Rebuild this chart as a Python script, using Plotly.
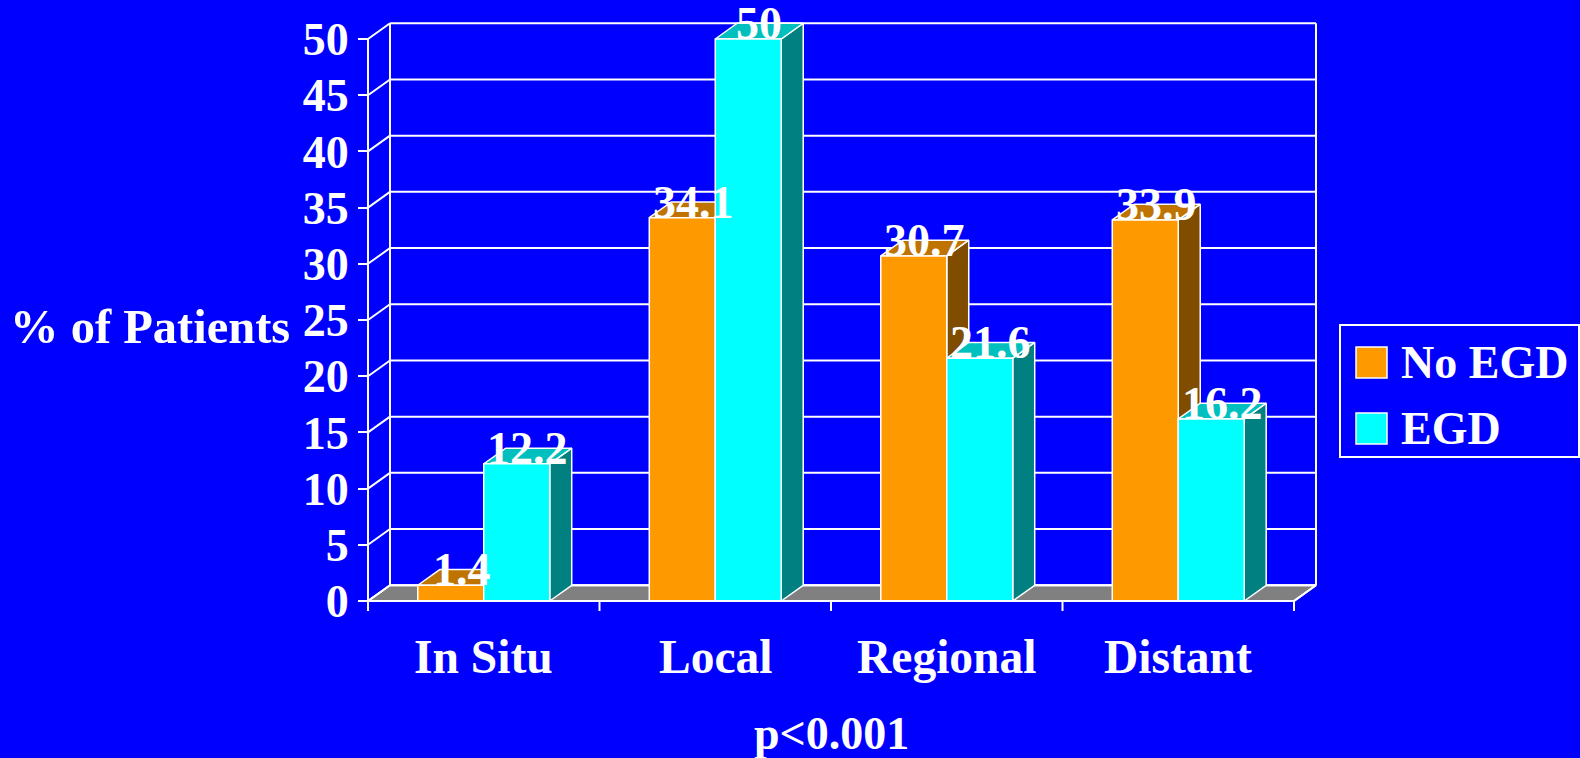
import plotly.graph_objects as go

# ---- data -------------------------------------------------------------
categories = ["In Situ", "Local", "Regional", "Distant"]
series_names = ["No EGD", "EGD"]
no_egd = [1.4, 34.1, 30.7, 33.9]
egd = [12.2, 50, 21.6, 16.2]
y_ticks = [0, 5, 10, 15, 20, 25, 30, 35, 40, 45, 50]
y_title = "% of Patients"
note = "p<0.001"

# ---- styling ----------------------------------------------------------
W, H = 1580, 758
BG = "#0000FF"
FONT = "Liberation Serif"
FS = 46
front_cols = ["#FF9900", "#00FFFF"]
top_cols = ["#BF7300", "#00BFBF"]
side_cols = ["#804D00", "#008080"]
FLOOR = "#808080"
LINE = "white"

# ---- geometry (axis units) --------------------------------------------
BAR_W = 0.285        # width of one bar, in category units
DX, DY = 0.095, 1.40  # depth offset of the 3-D boxes
PX_X, PX_Y = 231.5, 11.24   # pixels per category / per percent
X0_PX, Y0_PX = 368, 601      # pixel position of the front-left origin
L, R, T, B = 300, 1330, 8, 632  # plot area in pixels


def xd(px):
    return -0.5 + (px - X0_PX) / PX_X


def yd(py):
    return (Y0_PX - py) / PX_Y


def xp(px):
    return (px - L) / (R - L)


def yp(py):
    return (B - py) / (B - T)


def x_to_px(x):
    return X0_PX + (x + 0.5) * PX_X


fig = go.Figure()


def poly(xs, ys, fill, width=1.5):
    fig.add_trace(go.Scatter(
        x=list(xs) + [xs[0]], y=list(ys) + [ys[0]], mode="lines",
        fill="toself", fillcolor=fill, line=dict(color=LINE, width=width),
        hoverinfo="skip", showlegend=False))


def lines(segs, width=2):
    xs, ys = [], []
    for (x0, y0), (x1, y1) in segs:
        xs += [x0, x1, None]
        ys += [y0, y1, None]
    fig.add_trace(go.Scatter(
        x=xs, y=ys, mode="lines", line=dict(color=LINE, width=width),
        hoverinfo="skip", showlegend=False))


n = len(categories)
x_left, x_right = -0.5, n - 0.5
y_max = y_ticks[-1]

# floor
poly([x_left, x_right, x_right + DX, x_left + DX], [0, 0, DY, DY], FLOOR, 2)

# back wall gridlines, side-wall diagonals and wall edges
segs = []
for v in y_ticks:
    segs.append(((x_left + DX, v + DY), (x_right + DX, v + DY)))
    segs.append(((x_left, v), (x_left + DX, v + DY)))
segs.append(((x_left + DX, DY), (x_left + DX, y_max + DY)))
segs.append(((x_right + DX, DY), (x_right + DX, y_max + DY)))
lines(segs)

# 3-D bars, painted back-to-front: side, top, then front face
series_vals = [no_egd, egd]
for i in range(n):
    for s, vals in enumerate(series_vals):
        h = vals[i]
        x0 = i - BAR_W if s == 0 else i
        x1 = x0 + BAR_W
        poly([x1, x1 + DX, x1 + DX, x1], [0, DY, h + DY, h], side_cols[s])
        poly([x0, x1, x1 + DX, x0 + DX], [h, h, h + DY, h + DY], top_cols[s])
        poly([x0, x1, x1, x0], [0, 0, h, h], front_cols[s])

# front axes with category tick marks
tick_down = -10 / PX_Y
segs = [((x_left, 0), (x_left, y_max)),
        ((x_left, 0), (x_right, 0)),
        ((x_right, 0), (x_right + DX, DY))]
for k in range(n + 1):
    xk = x_left + k
    segs.append(((xk, 0), (xk, tick_down)))
lines(segs)

text_font = dict(family=FONT, size=FS, color="white")
cat_font = dict(family=FONT, size=47.5, color="white")
annotations = []
# value labels above each bar
for i in range(n):
    for s, vals in enumerate(series_vals):
        cx = (i - BAR_W / 2 if s == 0 else i + BAR_W / 2) + DX / 2
        annotations.append(dict(
            x=cx, y=vals[i], xref="x", yref="y", text=f"<b>{vals[i]:g}</b>",
            showarrow=False, yanchor="bottom", xanchor="center", yshift=-12,
            font=text_font))

# category labels
for i, c in enumerate(categories):
    annotations.append(dict(
        x=xp(x_to_px(i)), y=yp(657), xref="paper", yref="paper",
        text=f"<b>{c}</b>", showarrow=False, yanchor="middle",
        xanchor="center", font=cat_font))

# axis title and note
annotations.append(dict(
    x=xp(150), y=yp(326), xref="paper", yref="paper",
    text=f"<b>{y_title}</b>", showarrow=False, yanchor="middle",
    xanchor="center", font=dict(family=FONT, size=48.5, color="white")))
annotations.append(dict(
    x=xp(x_to_px((x_left + x_right) / 2)), y=yp(733), xref="paper",
    yref="paper", text=f"<b>{note}</b>", showarrow=False, yanchor="middle",
    xanchor="center", font=text_font))

# legend box
shapes = [dict(type="rect", xref="paper", yref="paper",
               x0=xp(1340), x1=xp(1579), y0=yp(457), y1=yp(325),
               line=dict(color=LINE, width=2), fillcolor=BG)]
sw_tops = [347, 413]
for s, name in enumerate(series_names):
    t = sw_tops[s]
    shapes.append(dict(type="rect", xref="paper", yref="paper",
                       x0=xp(1356), x1=xp(1387), y0=yp(t + 31), y1=yp(t),
                       line=dict(color=LINE, width=1.5),
                       fillcolor=front_cols[s]))
    annotations.append(dict(
        x=xp(1399), y=yp(t + 15.5), xref="paper", yref="paper",
        text=f"<b>{name}</b>", showarrow=False, xanchor="left",
        yanchor="middle", font=text_font))

fig.update_layout(
    width=W, height=H,
    margin=dict(l=L, r=W - R, t=T, b=H - B, autoexpand=False),
    paper_bgcolor=BG, plot_bgcolor=BG,
    showlegend=False,
    annotations=annotations, shapes=shapes,
    xaxis=dict(range=[xd(L), xd(R)], showgrid=False, zeroline=False,
               showticklabels=False, showline=False, fixedrange=True),
    yaxis=dict(range=[yd(B), yd(T)], showgrid=False, zeroline=False,
               showline=False, tickmode="array", tickvals=y_ticks,
               ticktext=[str(v) for v in y_ticks],
               ticks="outside", ticklen=10, tickwidth=2, tickcolor=LINE,
               anchor="free", position=xp(X0_PX), ticklabelstandoff=0,
               tickfont=dict(family=FONT, size=FS, color="white",
                             weight="bold"),
               fixedrange=True),
)

fig.write_html("out.html")
